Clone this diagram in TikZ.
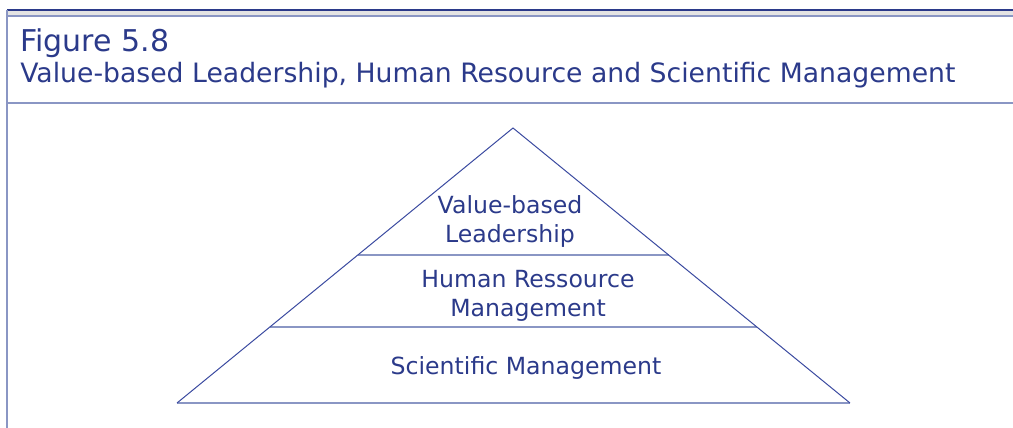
\documentclass[tikz,border=0pt]{standalone}
\usepackage{fontspec}
\setmainfont{DejaVu Sans}
\usetikzlibrary{positioning}
\definecolor{figblue}{HTML}{2B3A8A}
\definecolor{ruleblue}{HTML}{8A96C4}
\definecolor{edgeblue}{HTML}{3A4AA0}
\definecolor{bandgray}{HTML}{E4E4E4}
\tikzset{
        % Caption lines
        caption_text/.style={inner sep=0pt, anchor=base west, figblue},
        % Text inside the pyramid
        level_text/.style={align=center, inner sep=0pt, anchor=base, figblue, font=\fontsize{17.7}{21.75}\selectfont},
        % Frame and layer lines
        frame_rule/.style={ruleblue, line width=1.4pt},
        edge_rule/.style={edgeblue, line width=0.75pt}
}
\begin{document}
\begin{tikzpicture}[x=0.75pt, y=-0.75pt]
    \useasboundingbox (0,0) rectangle (1013,428);
    % top band
    \fill[bandgray] (7,10) rectangle (1013,16);
    \draw[figblue, line width=0.8pt] (7,10) -- (1013,10);
    \draw[frame_rule, line width=1pt] (7,16) -- (1013,16);
    \draw[frame_rule, line width=1pt] (7,10) -- (7,428);
    \draw[frame_rule, line width=1pt] (7,103) -- (1013,103);
    % caption
    \node[caption_text, font=\fontsize{22.5}{27}\selectfont] (fig) at (20,52) {Figure 5.8};
    \node[caption_text, font=\fontsize{20}{24}\selectfont] (title) at (20,83) {Value-based Leadership, Human Resource and Scientific Management};
    % pyramid
    \coordinate (apex) at (513,128);
    \coordinate (bl) at (177,403);
    \coordinate (br) at (850,403);
    \coordinate (l1) at (358,255);
    \coordinate (r1) at (669,255);
    \coordinate (l2) at (270,327);
    \coordinate (r2) at (757,327);
    \draw[frame_rule] (l1) -- (r1);
    \draw[frame_rule] (l2) -- (r2);
    \draw[frame_rule] (bl) -- (br);
    \draw[edge_rule] (bl) -- (apex) -- (br);
    % labels (base = last line)
    \node[level_text] (vbl) at (510,242) {Value-based\\Leadership};
    \node[level_text] (hrm) at (528,316) {Human Ressource\\Management};
    \node[level_text] (sm) at (526,374) {Scientific Management};
\end{tikzpicture}
\end{document}
